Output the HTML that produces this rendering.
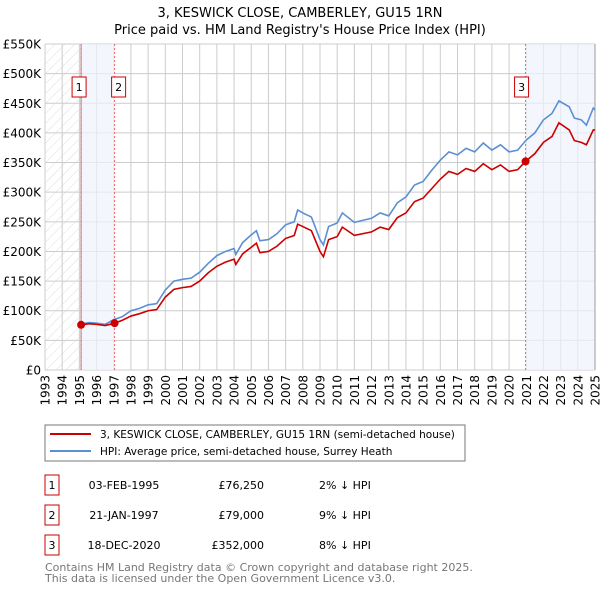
<!DOCTYPE html>
<html><head><meta charset="utf-8"><style>
body{margin:0;background:#fff;font-family:"DejaVu Sans","Liberation Sans",sans-serif;}
svg text{font-family:"DejaVu Sans","Liberation Sans",sans-serif;}
</style></head><body>
<svg id="chart" width="600" height="590" xmlns="http://www.w3.org/2000/svg">
<defs><pattern id="hatch" width="7" height="7" patternUnits="userSpaceOnUse" patternTransform="rotate(45)"><line x1="0" y1="0" x2="0" y2="7" stroke="#d4d4d4" stroke-width="0.8"/></pattern></defs>
<text x="300" y="17" text-anchor="middle" font-size="13">3, KESWICK CLOSE, CAMBERLEY, GU15 1RN</text>
<text x="300" y="34" text-anchor="middle" font-size="13">Price paid vs. HM Land Registry's House Price Index (HPI)</text>
<g id="grid"></g><g id="bands"></g><g id="axes"></g><g id="series"></g><g id="markers"></g>
<g>
<rect x="45" y="425" width="420" height="36" fill="#fff" stroke="#777"/>
<line x1="50" y1="434" x2="91" y2="434" stroke="#cc0000" stroke-width="2"/>
<text x="100" y="438" font-size="10.5">3, KESWICK CLOSE, CAMBERLEY, GU15 1RN (semi-detached house)</text>
<line x1="50" y1="451" x2="91" y2="451" stroke="#5b8fd4" stroke-width="2"/>
<text x="100" y="455" font-size="10.5">HPI: Average price, semi-detached house, Surrey Heath</text>
</g>
<g id="table" font-size="11"></g>
<text x="45" y="571" font-size="11" fill="#777">Contains HM Land Registry data © Crown copyright and database right 2025.</text>
<text x="45" y="582" font-size="11" fill="#777">This data is licensed under the Open Government Licence v3.0.</text>
</svg>
<script>
const hpiYears=[1995.1,1995.6,1996,1996.5,1997,1997.5,1998,1998.5,1999,1999.5,2000,2000.5,2001,2001.5,2002,2002.5,2003,2003.5,2004,2004.1,2004.5,2005,2005.3,2005.5,2006,2006.5,2007,2007.5,2007.7,2008,2008.5,2009,2009.2,2009.5,2010,2010.3,2011,2012,2012.5,2013,2013.5,2014,2014.5,2015,2015.5,2016,2016.5,2017,2017.5,2018,2018.5,2019,2019.5,2020,2020.5,2021,2021.5,2022,2022.5,2022.9,2023.5,2023.8,2024.2,2024.5,2024.9,2025];
const hpiValues=[78,80,79,77,85,90,100,104,110,112,135,150,153,155,165,180,193,200,205,195,215,228,235,218,220,230,245,250,270,265,258,220,211,242,248,265,249,256,265,260,282,292,312,318,337,354,368,363,374,368,383,371,380,368,371,388,400,422,433,454,444,425,422,413,442,439];
const ppYears=[1995.1,1995.6,1996,1996.5,1997.05,1997.5,1998,1998.5,1999,1999.5,2000,2000.5,2001,2001.5,2002,2002.5,2003,2003.5,2004,2004.1,2004.5,2005,2005.3,2005.5,2006,2006.5,2007,2007.5,2007.7,2008,2008.5,2009,2009.2,2009.5,2010,2010.3,2011,2012,2012.5,2013,2013.5,2014,2014.5,2015,2015.5,2016,2016.5,2017,2017.5,2018,2018.5,2019,2019.5,2020,2020.5,2020.96,2021.5,2022,2022.5,2022.9,2023.5,2023.8,2024.2,2024.5,2024.9,2025];
const ppValues=[76.25,78,77,75,79,84,91,95,100,102,123,136,139,141,150,164,175,182,187,178,196,207,214,198,200,209,222,227,246,242,235,200,191,220,225,241,227,233,241,237,257,265,284,290,306,322,335,330,340,335,348,338,346,335,338,352,365,384,394,417,405,387,384,380,405,405];
const sales=[{n:"1",year:1995.1,value:76.25,date:"03-FEB-1995",price:"£76,250",diff:"2% ↓ HPI"},{n:"2",year:1997.05,value:79,date:"21-JAN-1997",price:"£79,000",diff:"9% ↓ HPI"},{n:"3",year:2020.96,value:352,date:"18-DEC-2020",price:"£352,000",diff:"8% ↓ HPI"}];
const yTicks=[0,50,100,150,200,250,300,350,400,450,500,550];
const yTickLabels=["£0","£50K","£100K","£150K","£200K","£250K","£300K","£350K","£400K","£450K","£500K","£550K"];
const xTicks=[];for(let y=1993;y<=2025;y++)xTicks.push(y);
const X0=45,X1=595,Y0=370,Y1=44;
const xs=v=>X0+(v-1993)/(2025-1993)*(X1-X0);
const ys=v=>Y0-v/550*(Y0-Y1);
const NS="http://www.w3.org/2000/svg";
function mk(parent,tag,attrs){const e=document.createElementNS(NS,tag);for(const k in attrs)e.setAttribute(k,attrs[k]);document.getElementById(parent).appendChild(e);return e;}
let e;
e=mk("bands","rect",{x:X0,y:Y1,width:xs(1995.1)-X0,height:Y0-Y1,fill:"url(#hatch)"});


e=mk("bands","rect",{x:xs(1995.1),y:Y1,width:xs(1997.05)-xs(1995.1),height:Y0-Y1,fill:"#eef3fc",opacity:"0.7"});


e=mk("bands","rect",{x:xs(2020.96),y:Y1,width:X1-xs(2020.96),height:Y0-Y1,fill:"#eef3fc",opacity:"0.7"});


yTicks.forEach((t,i)=>{
 e=mk("grid","line",{x1:X0,x2:X1,y1:ys(t),y2:ys(t),stroke:"#ccc"});
 
 
 e=mk("axes","text",{x:X0-4,y:ys(t)+4.5,"text-anchor":"end","font-size":"12"});
 e.textContent=yTickLabels[i];
 
 
});
xTicks.forEach(t=>{
 e=mk("grid","line",{x1:xs(t),x2:xs(t),y1:Y1,y2:Y0,stroke:"#ccc"});
 
 
 const x=xs(t)+4.5;
 e=mk("axes","text",{x:x,y:375,"text-anchor":"end","font-size":"12",transform:`rotate(-90 ${x} 375)`});
 e.textContent=t;
 
 
});
e=mk("axes","line",{x1:xs(1995.1),x2:xs(1995.1),y1:Y1,y2:Y0,stroke:"#888"});


e=mk("axes","line",{x1:X1,x2:X1,y1:Y1,y2:Y0,stroke:"#999"});


e=mk("series","polyline",{points:hpiYears.map((y,i)=>xs(y)+","+ys(hpiValues[i])).join(" "),fill:"none",stroke:"#5b8fd4","stroke-width":"1.6"});


e=mk("series","polyline",{points:ppYears.map((y,i)=>xs(y)+","+ys(ppValues[i])).join(" "),fill:"none",stroke:"#cc0000","stroke-width":"1.6"});


sales.forEach((s,i)=>{
 const x=xs(s.year);
 e=mk("markers","line",{x1:x,x2:x,y1:Y1,y2:Y0,stroke:"#e66","stroke-dasharray":"2,2"});
 
 
 e=mk("markers","circle",{cx:x,cy:ys(s.value),r:4,fill:"#cc0000"});
 
 
 e=mk("markers","rect",{x:x-11,y:77,width:14,height:20,fill:"#fff",stroke:"#cc0000"});
 if(s.n==="2")e.setAttribute('x',x-3);
 if(s.n==="1")e.setAttribute('x',x-9);
 
 
 const bx=+e.getAttribute('x');
 e=mk("markers","text",{x:bx+7,y:91,"text-anchor":"middle","font-size":"11"});
 e.textContent=s.n;
 
 
 const ry=475+i*30;
 e=mk("table","rect",{x:45,y:ry,width:14,height:20,fill:"#fff",stroke:"#cc0000"});
 
 
 e=mk("table","text",{x:52,y:ry+14,"text-anchor":"middle"});e.textContent=s.n;
 
 
 e=mk("table","text",{x:124,y:ry+14,"text-anchor":"middle"});e.textContent=s.date;
 
 
 e=mk("table","text",{x:264,y:ry+14,"text-anchor":"end"});e.textContent=s.price;
 
 
 e=mk("table","text",{x:319,y:ry+14});e.textContent=s.diff;
 
 
});
</script>
</body></html>
